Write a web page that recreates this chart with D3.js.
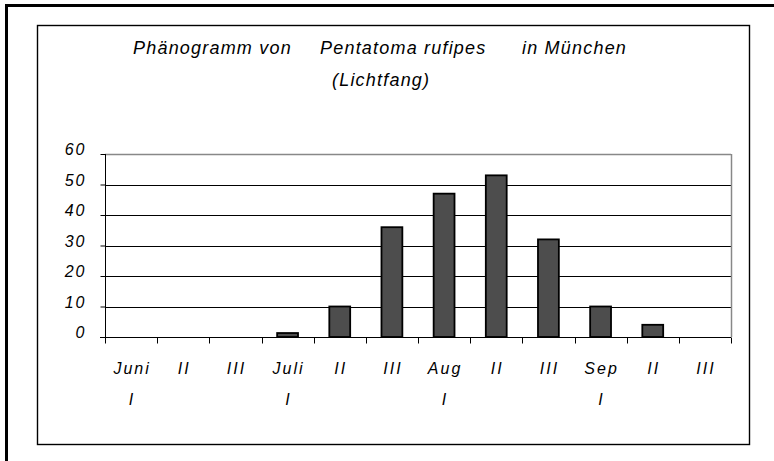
<!doctype html>
<head>
  <meta charset="utf-8">
  <script src="https://cdn.jsdelivr.net/npm/d3@7"></script>
</head>
<style>
  body { margin: 0; background: #fff; }
  text { font-family: 'Liberation Sans', Arial, sans-serif; font-style: italic; fill: #000; }
  .lbl { font-size: 16px; letter-spacing: 2px; }
  .ttl { font-size: 18px; letter-spacing: 1.2px; }
</style>
<body>
<svg width="774" height="461"></svg>
<script>
// data
var months = ["Juni", "", "", "Juli", "", "", "Aug", "", "", "Sep", "", ""];
var decades = ["I", "II", "III", "I", "II", "III", "I", "II", "III", "I", "II", "III"];
var counts = [0, 0, 0, 1.3, 10, 36, 47, 53, 32, 10, 4, 0];
var yTicks = [0, 10, 20, 30, 40, 50, 60];
var titleParts = ["Phänogramm von", "Pentatoma rufipes", "in München"];

var svg = d3.select("svg");

// outer frame (top + left only)
svg.append("path")
  .attr("d", "M6.5,461V5.5H774")
  .style("fill", "none").style("stroke", "#000").style("stroke-width", 3);

// chart frame
svg.append("rect")
  .attr("x", 37.5).attr("y", 25.5).attr("width", 712).attr("height", 419)
  .style("fill", "#fff").style("stroke", "#000").style("stroke-width", 1.4);

// title
var tx = [133, 320, 522];
svg.selectAll("text.title").data(titleParts).enter().append("text").classed("title ttl", true)
  .attr("x", function(d, i){ return tx[i]; }).attr("y", 54)
  .text(function(d){ return d; });
svg.append("text").classed("ttl", true).attr("x", 332).attr("y", 86)
  .text("(Lichtfang)");

// plot area
var pLeft = 105, pRight = 731, pTop = 154, pBottom = 337;
var idx = d3.range(counts.length);

var x = d3.scaleBand().domain(idx).range([pLeft, pRight]).paddingInner(0).paddingOuter(0);
var y = d3.scaleLinear().domain([0, 60]).range([pBottom, pTop]);

var g = svg.append("g");

// gridlines
g.selectAll("line.grid").data(yTicks.filter(function(d){ return d > 0; }))
  .enter().append("line").classed("grid", true)
  .attr("x1", pLeft).attr("x2", pRight)
  .attr("y1", function(d){ return Math.round(y(d)) + 0.5; })
  .attr("y2", function(d){ return Math.round(y(d)) + 0.5; })
  .style("stroke", function(d){ return d === 60 ? "#888" : "#000"; })
  .style("stroke-width", function(d){ return d === 60 ? 1.5 : 1; });

// right border of plot area
g.append("line")
  .attr("x1", pRight + 0.5).attr("x2", pRight + 0.5)
  .attr("y1", y(60)).attr("y2", y(0))
  .style("stroke", "#888").style("stroke-width", 1.5);

// bars
var bw = x.bandwidth() * 0.4;
g.selectAll("rect.bar").data(idx.filter(function(i){ return counts[i] > 0; }))
  .enter().append("rect").classed("bar", true)
  .attr("x", function(i){ return x(i) + (x.bandwidth() - bw) / 2; })
  .attr("y", function(i){ return y(counts[i]); })
  .attr("width", bw)
  .attr("height", function(i){ return y(0) - y(counts[i]); })
  .style("fill", "#4d4d4d").style("stroke", "#000").style("stroke-width", 1.8);

// y axis
var yAxis = d3.axisLeft(y).tickValues(yTicks).tickSize(5).tickPadding(14);
var ya = svg.append("g").attr("transform", "translate(" + (pLeft + 0.5) + ",0)").call(yAxis);
ya.select(".domain").remove();
ya.selectAll(".tick line").attr("x2", -5);
ya.append("line").attr("x1", 0).attr("x2", 0).attr("y1", pTop).attr("y2", pBottom + 5)
  .style("stroke", "#000");
ya.selectAll(".tick text").classed("lbl", true)
  .attr("font-family", null).attr("font-size", null)
  .attr("dy", "0.05em");

// x axis
var xa = svg.append("g").attr("transform", "translate(0," + (pBottom + 0.5) + ")");
xa.append("line").attr("x1", pLeft - 5).attr("x2", pRight).style("stroke", "#000");
xa.selectAll("line.tk").data(d3.range(counts.length + 1)).enter().append("line").classed("tk", true)
  .attr("x1", function(i){ return Math.round(pLeft + i * x.step()) + 0.5; })
  .attr("x2", function(i){ return Math.round(pLeft + i * x.step()) + 0.5; })
  .attr("y1", 0).attr("y2", 6).style("stroke", "#000");

xa.selectAll("text.dec").data(idx).enter().append("text").classed("dec lbl", true)
  .attr("text-anchor", "middle")
  .attr("x", function(i){ return x(i) + x.bandwidth() / 2 + 1; })
  .attr("y", function(i){ return months[i] ? 67 : 36; })
  .text(function(d){ return decades[d]; });
xa.selectAll("text.mon").data(idx.filter(function(i){ return months[i]; })).enter()
  .append("text").classed("mon lbl", true)
  .attr("text-anchor", "middle")
  .attr("x", function(i){ return x(i) + x.bandwidth() / 2 + 1; })
  .attr("y", 36)
  .text(function(i){ return months[i]; });
</script>
</body>
